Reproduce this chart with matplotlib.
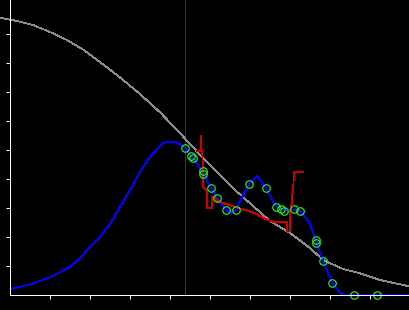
import matplotlib
matplotlib.use("Agg")
import matplotlib.pyplot as plt

# ---- data ----
gray_x = [-0.258, 0.168, 0.568, 0.993, 1.418, 1.818, 2.243, 2.743, 3.243, 3.743,
          4.168, 4.818, 5.618, 6.493, 6.993, 7.493, 7.818, 8.318, 8.743, 9.243,
          9.993]
gray_y = [9.572, 9.459, 9.321, 9.079, 8.803, 8.476, 8.045, 7.510, 6.941, 6.310,
          5.700, 4.734, 3.631, 2.562, 2.148, 1.631, 1.217, 0.907, 0.759, 0.528,
          0.303]

blue_x = [0.0, 0.493, 0.993, 1.493, 1.743, 1.993, 2.243, 2.493, 2.743, 2.993,
          3.243, 3.493, 3.818, 4.068, 4.243, 4.368, 4.543, 4.818, 5.018, 5.168,
          5.393, 5.518, 5.643, 5.793, 5.968, 6.168, 6.393, 6.543, 6.643, 6.843,
          7.068, 7.243, 7.368, 7.493, 7.643, 7.818, 8.043, 8.243, 8.368, 9.993]
blue_y = [0.217, 0.379, 0.621, 0.986, 1.276, 1.676, 2.021, 2.448, 3.055, 3.631,
          4.262, 4.779, 5.262, 5.297, 5.217, 5.079, 4.769, 4.217, 3.700, 3.355,
          2.941, 2.838, 2.941, 3.390, 3.838, 4.114, 3.700, 3.286, 3.079, 2.941,
          2.959, 2.907, 2.700, 2.459, 1.872, 1.183, 0.424, 0.079, 0.0, 0.0]

red_x = [4.660, 4.755, 4.760, 4.775, 4.780, 4.800, 4.810, 4.825, 4.868, 4.910,
         4.910, 5.035, 5.035, 5.118, 5.160, 5.743, 5.868, 6.118, 6.368, 6.575,
         6.910, 6.925, 6.993, 6.993, 7.035, 7.050, 7.075, 7.093, 7.325]
red_y = [4.986, 4.986, 5.483, 5.483, 4.986, 4.941, 4.552, 3.734, 3.666, 3.631,
         3.000, 3.000, 3.390, 3.390, 3.252, 2.993, 2.941, 2.828, 2.631, 2.538,
         2.538, 2.200, 2.200, 2.828, 3.172, 3.459, 3.745, 4.262, 4.262]

pts_x = [4.368, 4.518, 4.568, 4.810, 4.825, 5.025, 5.168, 5.393, 5.643, 5.968,
         6.400, 6.650, 6.768, 6.843, 7.085, 7.255, 7.650, 7.650, 7.825, 8.050,
         8.600, 9.175]
pts_y = [5.079, 4.803, 4.734, 4.286, 4.183, 3.690, 3.345, 2.941, 2.941, 3.838,
         3.700, 3.062, 2.966, 2.917, 2.959, 2.897, 1.907, 1.793, 1.183, 0.414,
         0.0, 0.0]

vline_x = 4.375
xticks = [1, 2, 3, 4, 5, 6, 7, 8, 9]
yticks = [1, 2, 3, 4, 5, 6, 7, 8, 9]

# ---- figure ----
fig = plt.figure(figsize=(4.1, 3.1), dpi=100, facecolor="black")
ax = fig.add_axes([0, 0, 1, 1], facecolor="black")
x0, x1 = -0.2575, 9.9925
y0, y1 = -0.507, 10.183
ax.set_xlim(x0, x1)
ax.set_ylim(y0, y1)

LW = 0.6
ax.plot([vline_x, vline_x], [0, y1], color="#7a0a7a", lw=LW, antialiased=False)
ax.plot(gray_x, gray_y, color="#8c8c8c", lw=LW, antialiased=False, clip_on=False)
ax.plot(blue_x, blue_y, color="#0000ff", lw=LW, antialiased=False)
ax.plot(red_x, red_y, color="#cc0000", lw=LW, antialiased=False)
ax.plot(pts_x, pts_y, linestyle="none", marker="o", markersize=5.4,
        markerfacecolor="none", markeredgecolor="#22ff22", markeredgewidth=0.8)

for s in ("top", "right"):
    ax.spines[s].set_visible(False)
ax.spines["left"].set_position(("data", 0))
ax.spines["bottom"].set_position(("data", 0))
ax.spines["left"].set_bounds(0, y1)
ax.spines["bottom"].set_bounds(0, x1)
for s in ("left", "bottom"):
    ax.spines[s].set_color("white")
    ax.spines[s].set_linewidth(0.7)
    ax.spines[s].set_antialiased(False)

ax.set_xticks(xticks)
ax.set_yticks(yticks)
ax.tick_params(direction="out", length=3, width=0.7, colors="white",
               labelleft=False, labelbottom=False)

fig.savefig("out.png", dpi=100, facecolor="black")
